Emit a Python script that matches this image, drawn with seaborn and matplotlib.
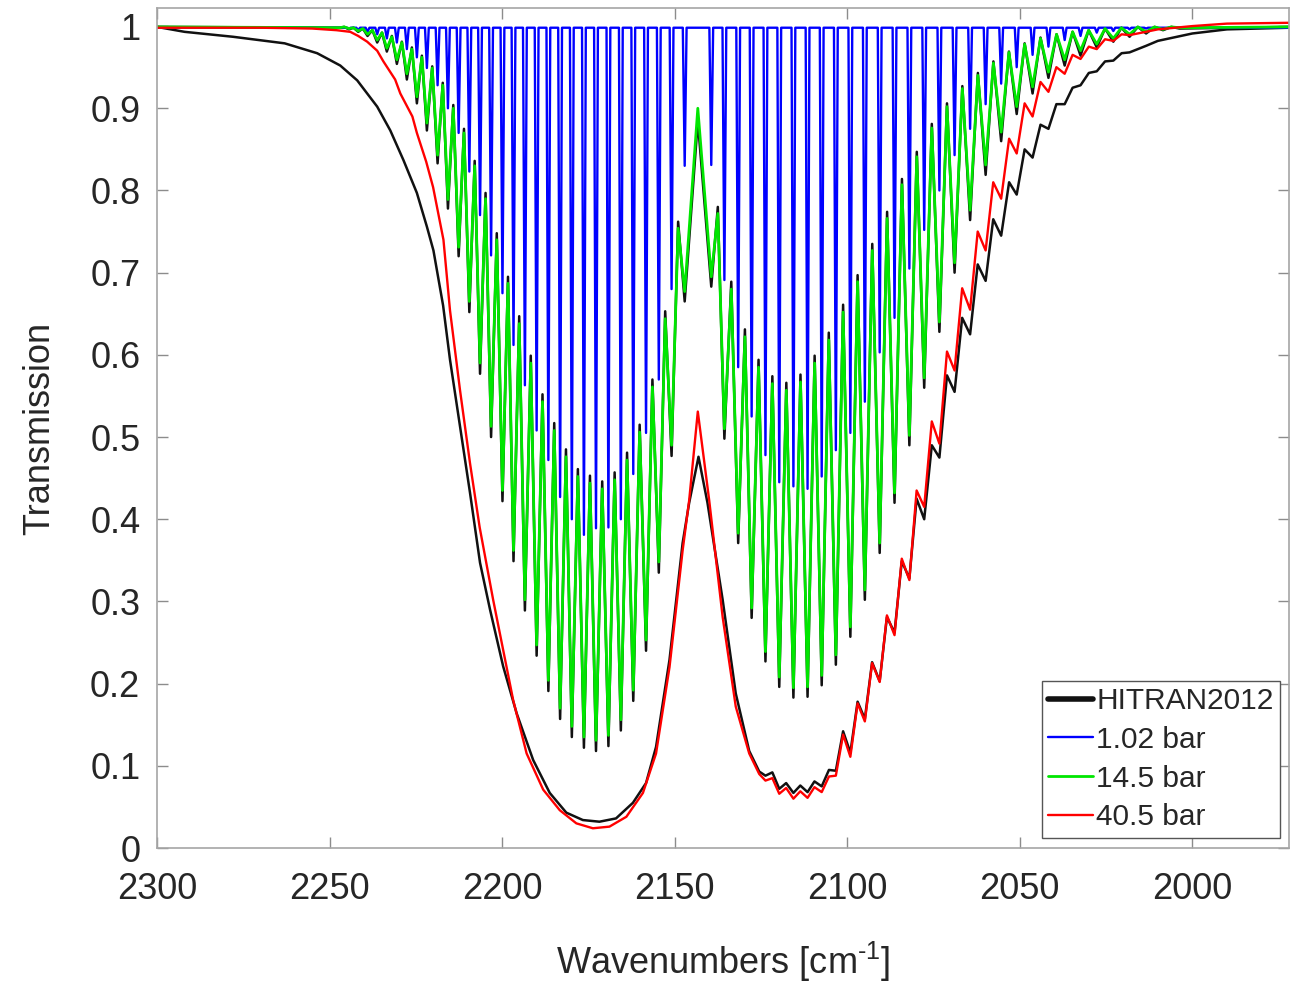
import matplotlib
matplotlib.use("Agg")
import matplotlib.pyplot as plt
import seaborn as sns
import pandas as pd

# CO fundamental band, line positions [cm-1]
r_lines = [2147.1, 2150.9, 2154.6, 2158.3, 2162.0, 2165.6, 2169.2, 2172.8, 2176.3, 2179.8,
           2183.2, 2186.6, 2190.0, 2193.4, 2196.7, 2199.9, 2203.2, 2206.4, 2209.5, 2212.6,
           2215.7, 2218.7, 2221.8, 2224.7, 2227.6, 2230.5, 2233.4, 2236.2, 2239.0, 2241.7,
           2244.4, 2247.1]
p_lines = [2139.4, 2135.6, 2131.6, 2127.7, 2123.7, 2119.7, 2115.6, 2111.5, 2107.4, 2103.3,
           2099.1, 2094.9, 2090.6, 2086.3, 2082.0, 2077.7, 2073.3, 2068.9, 2064.4, 2059.9,
           2055.4, 2050.9, 2046.3, 2041.7, 2037.0, 2032.4, 2027.7, 2022.9, 2018.2, 2013.4,
           2008.5, 2003.7]
band_center = 2143.3
x_left, x_right = 2300, 1972

# 1.02 bar: line minima, baseline between lines
blue_r_min = [0.83, 0.68, 0.57, 0.505, 0.455, 0.40, 0.39, 0.389, 0.381, 0.40, 0.427, 0.472,
              0.508, 0.563, 0.612, 0.675, 0.721, 0.77, 0.823, 0.87, 0.90, 0.928, 0.949, 0.962,
              0.972, 0.98, 0.985, 0.99, 0.993, 0.995, 0.997, 0.998]
blue_p_min = [0.831, 0.691, 0.585, 0.525, 0.478, 0.445, 0.44, 0.437, 0.452, 0.484, 0.505, 0.543,
              0.603, 0.645, 0.705, 0.752, 0.80, 0.843, 0.875, 0.905, 0.93, 0.95, 0.965, 0.975,
              0.983, 0.988, 0.992, 0.994, 0.996, 0.997, 0.998, 0.998]
blue_top = 0.998

# 14.5 bar: minima at lines, maxima between lines
green_r_min = [0.677, 0.49, 0.348, 0.253, 0.192, 0.156, 0.137, 0.131, 0.135, 0.148, 0.170, 0.204,
               0.247, 0.302, 0.362, 0.435, 0.513, 0.59, 0.665, 0.731, 0.789, 0.843, 0.882, 0.914,
               0.942, 0.959, 0.973, 0.983, 0.99, 0.994, 0.997, 0.998]
green_r_gap = [0.754, 0.644, 0.561, 0.506, 0.472, 0.448, 0.437, 0.444, 0.452, 0.476, 0.508, 0.543,
               0.59, 0.638, 0.687, 0.74, 0.79, 0.83, 0.87, 0.90, 0.928, 0.949, 0.962, 0.972,
               0.98, 0.987, 0.992, 0.995, 0.997, 0.998, 0.999]
green_p_min = [0.695, 0.51, 0.383, 0.292, 0.239, 0.208, 0.195, 0.196, 0.21, 0.235, 0.269, 0.314,
               0.371, 0.432, 0.502, 0.572, 0.64, 0.712, 0.776, 0.831, 0.871, 0.902, 0.926, 0.944,
               0.959, 0.97, 0.978, 0.985, 0.99, 0.993, 0.996, 0.998]
green_p_gap = [0.772, 0.68, 0.622, 0.585, 0.565, 0.557, 0.567, 0.59, 0.618, 0.652, 0.689, 0.727,
               0.766, 0.807, 0.841, 0.876, 0.902, 0.924, 0.94, 0.955, 0.968, 0.978, 0.985, 0.99,
               0.993, 0.995, 0.997, 0.998, 0.999, 0.999, 0.999]
green_center = 0.90

# HITRAN2012 at 14.5 bar (shows as black tips/caps around the green curve)
hit14_r_min = [0.665, 0.477, 0.335, 0.24, 0.179, 0.143, 0.124, 0.118, 0.122, 0.135, 0.157, 0.191,
               0.234, 0.289, 0.349, 0.422, 0.50, 0.577, 0.652, 0.72, 0.778, 0.833, 0.873, 0.906,
               0.935, 0.954, 0.969, 0.98, 0.988, 0.993, 0.996, 0.998]
hit14_r_gap = [0.762, 0.653, 0.57, 0.515, 0.481, 0.457, 0.446, 0.453, 0.461, 0.485, 0.517, 0.552,
               0.599, 0.647, 0.695, 0.748, 0.797, 0.836, 0.875, 0.904, 0.931, 0.951, 0.964, 0.974,
               0.981, 0.988, 0.992, 0.995, 0.997, 0.998, 0.999]
hit14_p_min = [0.683, 0.498, 0.371, 0.28, 0.227, 0.196, 0.183, 0.184, 0.198, 0.223, 0.257, 0.302,
               0.359, 0.42, 0.49, 0.56, 0.628, 0.70, 0.764, 0.819, 0.86, 0.893, 0.918, 0.937,
               0.952, 0.964, 0.974, 0.981, 0.987, 0.991, 0.995, 0.997]
hit14_p_gap = [0.78, 0.689, 0.631, 0.594, 0.574, 0.566, 0.576, 0.599, 0.627, 0.661, 0.697, 0.735,
               0.774, 0.814, 0.847, 0.881, 0.906, 0.927, 0.943, 0.957, 0.969, 0.979, 0.986, 0.99,
               0.993, 0.995, 0.997, 0.998, 0.999, 0.999, 0.999]
hit14_center = 0.885

# 40.5 bar measured (red) and HITRAN2012 (black)
red_x = [2300, 2270, 2255, 2248, 2244, 2241.7, 2239.1, 2236.2, 2234.4, 2231, 2229.5, 2226, 2224.7,
         2222, 2220, 2217, 2215.1, 2212.2, 2209.3, 2206.5, 2202.6, 2199.7, 2196.8, 2192.9, 2188.1,
         2183.3, 2178.5, 2173.7, 2168.9, 2164, 2159.2, 2155.4, 2151.5, 2147.7, 2145.8, 2143.3,
         2140.0, 2136.1, 2132.3, 2128.4, 2125.5,
         2123.7, 2121.7, 2119.7, 2117.7, 2115.6, 2113.6, 2111.5, 2109.5, 2107.4, 2105.3, 2103.3,
         2101.2, 2099.1, 2097.0, 2094.9, 2092.8, 2090.6, 2088.5, 2086.3, 2084.2, 2082.0, 2079.9,
         2077.7, 2075.5, 2073.3, 2071.1, 2068.9, 2066.7, 2064.4, 2062.2, 2059.9, 2057.7, 2055.4,
         2053.1, 2050.9, 2048.6, 2046.3, 2044.0, 2041.7, 2039.4, 2037.0, 2034.7, 2032.4, 2030.0,
         2027.7, 2025.3, 2022.9, 2020.5, 2018.2, 2010, 2000, 1990, 1972]
red_y = [0.998, 0.998, 0.997, 0.995, 0.993, 0.988, 0.981, 0.97, 0.957, 0.935, 0.918, 0.89, 0.87,
         0.835, 0.804, 0.74, 0.654, 0.557, 0.468, 0.39, 0.302, 0.241, 0.18, 0.115, 0.071,
         0.046, 0.030, 0.024, 0.026, 0.038, 0.067, 0.115, 0.22, 0.362, 0.423, 0.531,
         0.423, 0.281, 0.172, 0.115, 0.09,
         0.082, 0.085, 0.066, 0.073, 0.06, 0.069, 0.061, 0.074, 0.068, 0.087, 0.088,
         0.138, 0.111, 0.176, 0.154, 0.225, 0.202, 0.283, 0.259, 0.352, 0.326, 0.435,
         0.415, 0.519, 0.492, 0.604, 0.581, 0.681, 0.655, 0.75, 0.727, 0.81, 0.79,
         0.863, 0.845, 0.906, 0.89, 0.932, 0.92, 0.95, 0.942, 0.965, 0.96, 0.975,
         0.972, 0.984, 0.982, 0.99, 0.989, 0.996, 1.0, 1.003, 1.004]

black_x = [2300, 2292, 2278, 2263, 2253.6, 2246.9, 2242, 2236.2, 2232.4, 2228.6, 2224.7, 2221.8,
           2219.9, 2217.1, 2215.1, 2212.2, 2209.3, 2206.4, 2203.5, 2199.7, 2195.8, 2191, 2186.2,
           2181.4, 2176.6, 2171.8, 2167, 2162.1, 2158.3, 2155.4, 2151.5, 2147.7, 2145.8, 2143.1,
           2140.5, 2136.1, 2132.3, 2128.4, 2125.5,
           2123.7, 2121.7, 2119.7, 2117.7, 2115.6, 2113.6, 2111.5, 2109.5, 2107.4, 2105.3, 2103.3,
           2101.2, 2099.1, 2097.0, 2094.9, 2092.8, 2090.6, 2088.5, 2086.3, 2084.2, 2082.0, 2079.9,
           2077.7, 2075.5, 2073.3, 2071.1, 2068.9, 2066.7, 2064.4, 2062.2, 2059.9, 2057.7, 2055.4,
           2053.1, 2050.9, 2048.6, 2046.3, 2044.0, 2041.7, 2039.4, 2037.0, 2034.7, 2032.4, 2030.0,
           2027.7, 2025.3, 2022.9, 2020.5, 2018.2, 2013.4, 2010, 2000, 1990, 1972]
black_y = [0.999, 0.993, 0.987, 0.979, 0.967, 0.952, 0.934, 0.902, 0.873, 0.837, 0.797, 0.756,
           0.727, 0.66, 0.594, 0.513, 0.432, 0.347, 0.29, 0.221, 0.164, 0.107, 0.067,
           0.043, 0.034, 0.032, 0.036, 0.055, 0.079, 0.123, 0.229, 0.371, 0.42, 0.476,
           0.42, 0.302, 0.188, 0.118, 0.093,
           0.088, 0.092, 0.072, 0.079, 0.067, 0.076, 0.068, 0.081, 0.075, 0.095, 0.094,
           0.142, 0.116, 0.178, 0.157, 0.226, 0.203, 0.281, 0.262, 0.349, 0.328, 0.425,
           0.40, 0.49, 0.475, 0.575, 0.555, 0.645, 0.625, 0.71, 0.69, 0.765, 0.745,
           0.81, 0.795, 0.85, 0.84, 0.88, 0.875, 0.905, 0.905, 0.925, 0.928, 0.943,
           0.945, 0.957, 0.958, 0.967, 0.968, 0.976, 0.982, 0.991, 0.996, 0.998]

x_ticks = [2300, 2250, 2200, 2150, 2100, 2050, 2000]
y_ticks = [0, 0.1, 0.2, 0.3, 0.4, 0.5, 0.6, 0.7, 0.8, 0.9, 1]
y_tick_labels = ["0", "0.1", "0.2", "0.3", "0.4", "0.5", "0.6", "0.7", "0.8", "0.9", "1"]


def zigzag(lines, at_lines, at_gaps):
    xs, ys = [], []
    for i, c in enumerate(lines):
        xs.append(c)
        ys.append(at_lines[i])
        if i < len(at_gaps):
            xs.append((c + lines[i + 1]) / 2)
            ys.append(at_gaps[i])
    return xs, ys


def band(r_min, r_gap, center, p_min, p_gap, edge=0.999):
    rx, ry = zigzag(r_lines, r_min, r_gap)
    px, py = zigzag(p_lines, p_min, p_gap)
    return pd.DataFrame({"x": [x_left] + rx + [band_center] + px + [x_right],
                         "y": [edge] + ry + [center] + py + [edge]})


def spikes(depths_r, depths_p, top, hw=0.55):
    xs, ys = [x_left, band_center, x_right], [top, top, top]
    for c, d in list(zip(r_lines, depths_r)) + list(zip(p_lines, depths_p)):
        xs += [c - hw, c, c + hw]
        ys += [top, d, top]
    return pd.DataFrame({"x": xs, "y": ys})


sns.set_style("ticks")
plt.rcParams["font.family"] = ["Liberation Sans", "DejaVu Sans"]
plt.rcParams["mathtext.fontset"] = "custom"
plt.rcParams["mathtext.rm"] = "Liberation Sans"

fig = plt.figure(figsize=(12.91, 9.89), dpi=100)
ax = fig.add_axes([157 / 1291, 141 / 989, 1132 / 1291, 840 / 989])

black40 = pd.DataFrame({"x": black_x, "y": black_y})
red40 = pd.DataFrame({"x": red_x, "y": red_y})
hit14 = band(hit14_r_min, hit14_r_gap, hit14_center, hit14_p_min, hit14_p_gap)
green = band(green_r_min, green_r_gap, green_center, green_p_min, green_p_gap)
blue = spikes(blue_r_min, blue_p_min, blue_top)

kw = dict(x="x", y="y", estimator=None, sort=True, ax=ax)
sns.lineplot(data=black40, color="#111111", lw=1.8, label="HITRAN2012", **kw)
sns.lineplot(data=hit14, color="#111111", lw=1.8, label="_nolegend_", **kw)
sns.lineplot(data=blue, color="#0000ff", lw=1.7, label="1.02 bar", **kw)
sns.lineplot(data=green, color="#00e600", lw=2.0, label="14.5 bar", **kw)
sns.lineplot(data=red40, color="#ff0000", lw=1.7, label="40.5 bar", **kw)

ax.set_xlim(x_left, x_right)
ax.set_ylim(0, 1.022)
ax.set_xticks(x_ticks)
ax.set_yticks(y_ticks)
ax.set_yticklabels(y_tick_labels)
ax.tick_params(direction="in", length=8, width=1, top=True, right=True,
               color="#8c8c8c", labelcolor="#262626", labelsize=26, pad=12)
ax.tick_params(axis="x", pad=17)
for s in ax.spines.values():
    s.set_color("#a6a6a6")
    s.set_linewidth(1.2)

ax.set_xlabel("Wavenumbers [cm$^{\u20101}$]", fontsize=26, color="#262626", labelpad=24)
ax.set_ylabel("Transmission", fontsize=26, color="#262626", labelpad=24)

leg = ax.legend(loc="lower right", bbox_to_anchor=(1 - 9 / 1132, 10 / 840), borderaxespad=0,
                fontsize=21.5, frameon=True, fancybox=False, framealpha=1, edgecolor="#555555",
                labelspacing=0.36, handlelength=1.5, handletextpad=0.1, borderpad=0.22)
leg.get_frame().set_linewidth(1.0)
leg.get_lines()[0].set_linewidth(4)
for t in leg.get_texts():
    t.set_color("#262626")

fig.savefig("out.png", dpi=100, facecolor="white")
